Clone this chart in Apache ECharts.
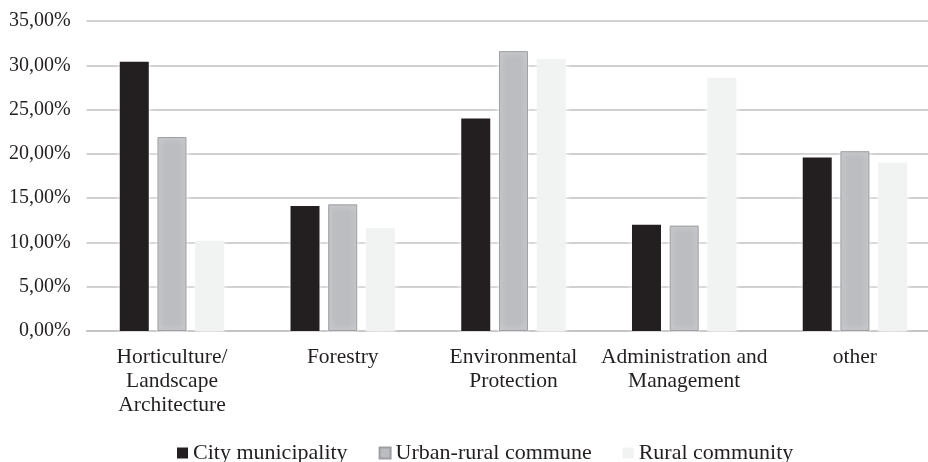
<!DOCTYPE html>
<html>
<head>
<meta charset="utf-8">
<script src="https://cdn.jsdelivr.net/npm/echarts@6/dist/echarts.min.js"></script>
<style>
html,body{margin:0;padding:0;background:#fff;}
#chart{width:928px;height:462px;}
</style>
</head>
<body>
<div id="chart"></div>
<script>
const categories = ['Horticulture/\nLandscape\nArchitecture', 'Forestry', 'Environmental\nProtection', 'Administration and\nManagement', 'other'];
const seriesNames = ['City municipality', 'Urban-rural commune', 'Rural community'];
const cityMunicipality = [30.4, 14.1, 24.0, 12.0, 19.6];
const urbanRuralCommune = [21.9, 14.3, 31.6, 11.9, 20.3];
const ruralCommunity = [10.2, 11.6, 30.7, 28.6, 19.0];
const yMin = 0, yMax = 35, yInterval = 5;

const fontFamily = '"Liberation Serif", "Times New Roman", serif';
const textColor = '#231f20';
const halo = {shadowColor: '#ffffff', shadowBlur: 6};

const chart = echarts.init(document.getElementById('chart'), null, {renderer: 'canvas'});
chart.setOption({
  animation: false,
  backgroundColor: '#ffffff',
  grid: {left: 86.6, top: 21, width: 853.7, height: 310, containLabel: false, outerBoundsMode: 'none'},
  legend: {
    data: seriesNames,
    left: 177,
    top: 442,
    padding: 0,
    icon: 'rect',
    itemWidth: 11,
    itemHeight: 11,
    itemGap: 31,
    textStyle: {fontFamily: fontFamily, fontSize: 22, color: textColor}
  },
  xAxis: {
    type: 'category',
    data: categories,
    axisLine: {show: true, lineStyle: {color: '#c0c0c0', width: 1.5}},
    axisTick: {show: false},
    axisLabel: {
      interval: 0,
      margin: 14,
      fontFamily: fontFamily,
      fontSize: 21.5,
      lineHeight: 24,
      color: textColor,
      align: 'center'
    }
  },
  yAxis: {
    type: 'value',
    min: yMin,
    max: yMax,
    interval: yInterval,
    axisLine: {show: false},
    axisTick: {show: false},
    splitLine: {lineStyle: {color: '#c0c0c0', width: 1.5}},
    axisLabel: {
      margin: 16,
      fontFamily: fontFamily,
      fontSize: 20,
      color: textColor,
      formatter: v => v.toFixed(2).replace('.', ',') + '%'
    }
  },
  series: [
    {name: seriesNames[0], type: 'bar', data: cityMunicipality, barWidth: 29, barGap: '30%',
     itemStyle: Object.assign({color: '#231f20'}, halo)},
    {name: seriesNames[1], type: 'bar', data: urbanRuralCommune, barWidth: 29, barGap: '30%',
     itemStyle: Object.assign({color: '#bcbdc0', borderColor: '#9d9fa2', borderWidth: 1}, halo)},
    {name: seriesNames[2], type: 'bar', data: ruralCommunity, barWidth: 29, barGap: '30%',
     itemStyle: Object.assign({color: '#f1f2f2'}, halo)}
  ]
});
</script>
</body>
</html>
